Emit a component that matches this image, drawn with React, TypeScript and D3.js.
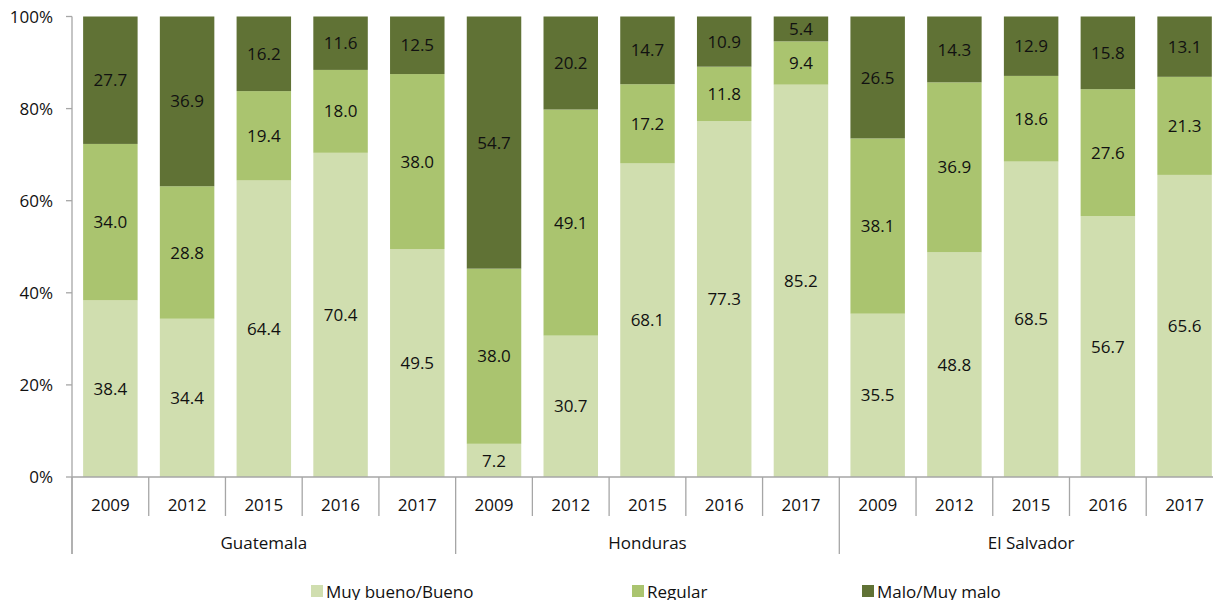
import React from "react";
import * as d3 from "d3";

const countries = ["Guatemala", "Honduras", "El Salvador"];
const years = ["2009", "2012", "2015", "2016", "2017"];
const seriesNames = ["Muy bueno/Bueno", "Regular", "Malo/Muy malo"];
const muyBueno = [38.4, 34.4, 64.4, 70.4, 49.5, 7.2, 30.7, 68.1, 77.3, 85.2, 35.5, 48.8, 68.5, 56.7, 65.6];
const regular = [34.0, 28.8, 19.4, 18.0, 38.0, 38.0, 49.1, 17.2, 11.8, 9.4, 38.1, 36.9, 18.6, 27.6, 21.3];
const malo = [27.7, 36.9, 16.2, 11.6, 12.5, 54.7, 20.2, 14.7, 10.9, 5.4, 26.5, 14.3, 12.9, 15.8, 13.1];
const yTicks = [0, 0.2, 0.4, 0.6, 0.8, 1];
const colors = ["#d0deaf", "#aac46f", "#607235"];

const FONT = "'Open Sans', sans-serif";

export default function App() {
  const left = 72;
  const step = 76.73;
  const n = muyBueno.length;
  const x = d3.scaleBand<number>().domain(d3.range(n)).range([left, left + step * n]).padding(0);
  const y = d3.scaleLinear().domain([0, 1]).range([477, 16.5]);
  const barW = x.bandwidth() * 0.71;

  const rows = d3.range(n).map((i) => ({ i, s0: muyBueno[i], s1: regular[i], s2: malo[i] }));
  const stack = d3.stack<any>().keys(["s0", "s1", "s2"]).offset(d3.stackOffsetExpand);
  const layers = stack(rows);
  const raw = [muyBueno, regular, malo];
  const axisColor = "#a6a6a6";
  const yBase = y(0);

  return (
    <svg width={1213} height={600} style={{ position: "absolute", left: 0, top: 0 }} fontFamily={FONT}>
      <rect width={1213} height={600} fill="#fff" />
      {layers.map((layer, k) => (
        <g key={k}>
          {layer.map((d, i) => {
            const x0 = (x(i) as number) + (x.bandwidth() - barW) / 2;
            const yTop = y(d[1]);
            const yBot = y(d[0]);
            return (
              <g key={i}>
                <rect x={x0} y={yTop} width={barW} height={yBot - yTop} fill={colors[k]} />
                <text
                  x={x0 + barW / 2}
                  y={(yTop + yBot) / 2}
                  dy="0.36em"
                  textAnchor="middle"
                  fontSize={17}
                  fill="#111"
                >
                  {raw[k][i].toFixed(1)}
                </text>
              </g>
            );
          })}
        </g>
      ))}
      {/* y axis */}
      <line x1={left} x2={left} y1={y(1)} y2={554} stroke={axisColor} strokeWidth={1.3} />
      {yTicks.map((t) => (
        <g key={t}>
          <line x1={66} x2={left} y1={y(t)} y2={y(t)} stroke={axisColor} strokeWidth={1.3} />
          <text x={53} y={y(t)} dy="0.36em" textAnchor="end" fontSize={17} fill="#111">
            {d3.format(".0%")(t)}
          </text>
        </g>
      ))}
      {/* x axis */}
      <line x1={left} x2={left + step * n} y1={yBase} y2={yBase} stroke={axisColor} strokeWidth={1.3} />
      {d3.range(n + 1).map((i) => {
        const xx = left + step * i;
        const isGroup = i % years.length === 0;
        return (
          <line key={i} x1={xx} x2={xx} y1={yBase} y2={isGroup ? 554 : 516} stroke={axisColor} strokeWidth={1.3} />
        );
      })}
      {d3.range(n).map((i) => (
        <text
          key={i}
          x={(x(i) as number) + x.bandwidth() / 2}
          y={511}
          textAnchor="middle"
          fontSize={17}
          fill="#111"
        >
          {years[i % years.length]}
        </text>
      ))}
      {countries.map((c, g) => (
        <text
          key={c}
          x={left + step * (g * years.length + years.length / 2)}
          y={549}
          textAnchor="middle"
          fontSize={17}
          fill="#111"
        >
          {c}
        </text>
      ))}
      {/* legend */}
      {seriesNames.map((s, k) => {
        const lx = [311, 632, 862][k];
        return (
          <g key={s}>
            <rect x={lx} y={585} width={12} height={12} fill={colors[k]} />
            <text x={lx + 15} y={598} fontSize={17} fill="#111">
              {s}
            </text>
          </g>
        );
      })}
    </svg>
  );
}
